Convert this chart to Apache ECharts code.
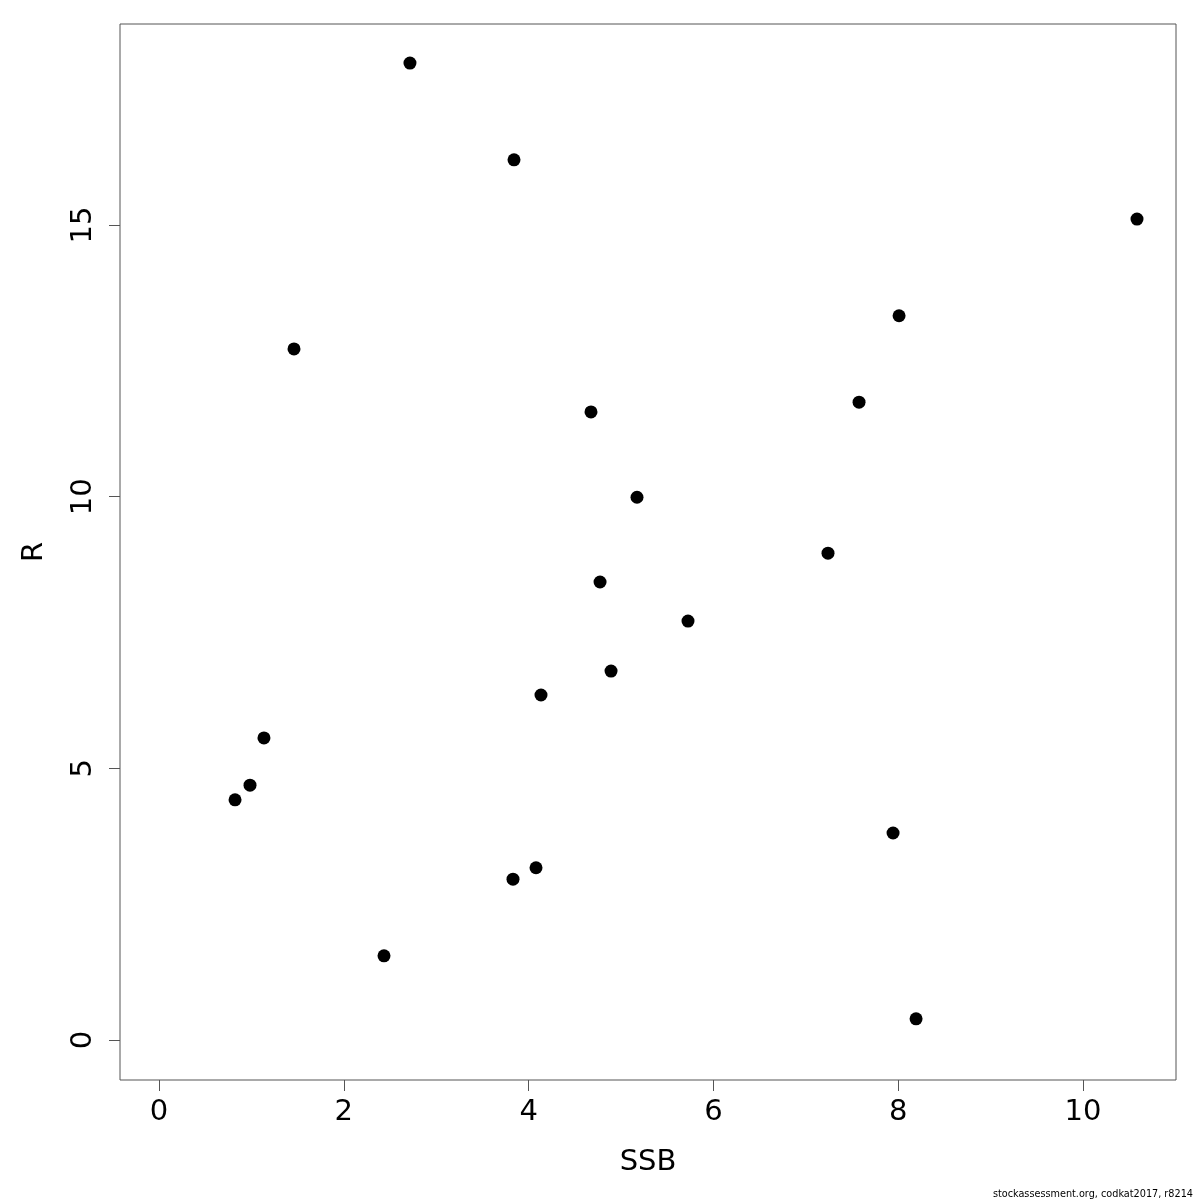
<!DOCTYPE html>
<html><head><meta charset="utf-8">
<script src="https://cdn.jsdelivr.net/npm/echarts@6/dist/echarts.min.js"></script>
<style>html,body{margin:0;padding:0;background:#fff}#c{width:1200px;height:1200px}</style>
</head><body><div id="c"></div>
<script>
const ssb = [2.716, 3.842, 10.584, 8.009, 1.461, 7.576, 4.675, 5.173, 7.240, 4.773, 5.725, 4.892, 4.134, 1.136, 0.985, 0.823, 7.944, 4.080, 3.831, 2.435, 8.193];
const rec = [17.98, 16.20, 15.11, 13.33, 12.72, 11.74, 11.56, 9.99, 8.96, 8.43, 7.71, 6.79, 6.35, 5.56, 4.69, 4.42, 3.81, 3.17, 2.96, 1.55, 0.39];
const xTicks = [0, 2, 4, 6, 8, 10];
const yTicks = [0, 5, 10, 15];
const footer = 'stockassessment.org, codkat2017, r8214';

const chart = echarts.init(document.getElementById('c'), null, {renderer: 'canvas'});
const font = 'DejaVu Sans';
chart.setOption({
  animation: false,
  grid: {left: 120, right: 24, top: 24, bottom: 120, outerBoundsMode: 'none', containLabel: false,
         show: true, borderColor: '#555', borderWidth: 1, backgroundColor: 'transparent'},
  xAxis: {
    type: 'value', min: -0.422, max: 11.006,
    name: 'SSB', nameLocation: 'middle', nameGap: 68,
    nameTextStyle: {fontFamily: font, fontSize: 29, color: '#000'},
    splitLine: {show: false},
    axisLine: {show: false, onZero: false},
    axisTick: {show: true, length: 11, lineStyle: {color: '#555'}, customValues: xTicks},
    axisLabel: {fontFamily: font, fontSize: 29, color: '#000', margin: 18, customValues: xTicks}
  },
  yAxis: {
    type: 'value', min: -0.736, max: 18.70,
    name: 'R', nameLocation: 'middle', nameGap: 71, nameRotate: 90,
    nameTextStyle: {fontFamily: font, fontSize: 29, color: '#000'},
    splitLine: {show: false},
    axisLine: {show: false, onZero: false},
    axisTick: {show: true, length: 11, lineStyle: {color: '#555'}, customValues: yTicks},
    axisLabel: {fontFamily: font, fontSize: 29, color: '#000', margin: 22, rotate: 90, customValues: yTicks}
  },
  series: [{
    type: 'scatter',
    data: ssb.map((v, i) => [v, rec[i]]),
    symbol: 'circle', symbolSize: 13,
    itemStyle: {color: '#000', opacity: 1}
  }],
  graphic: [{
    type: 'text', right: 7, bottom: 1,
    style: {text: footer, fontFamily: font, fontSize: 9.7, fill: '#000'}
  }]
});
</script></body></html>
